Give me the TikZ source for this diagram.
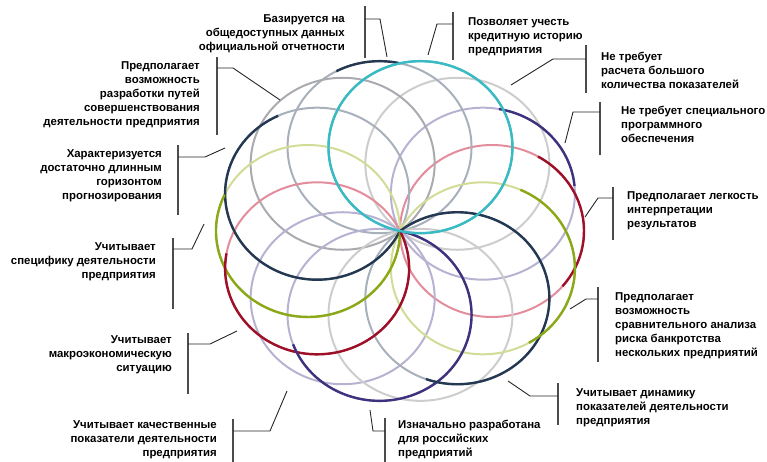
\documentclass[tikz,border=0pt]{standalone}
\usepackage{fontspec}
\setmainfont{Liberation Sans}
\usetikzlibrary{calc}

\definecolor{ringred}{RGB}{158,16,40}
\definecolor{ringpink}{RGB}{226,140,156}
\definecolor{ringindigo}{RGB}{60,50,126}
\definecolor{ringlav}{RGB}{184,178,210}
\definecolor{ringcyan}{RGB}{58,186,194}
\definecolor{ringnavy}{RGB}{36,56,82}
\definecolor{ringslate}{RGB}{168,176,188}
\definecolor{ringgray}{RGB}{170,170,176}
\definecolor{ringlight}{RGB}{205,205,205}
\definecolor{ringolive}{RGB}{138,168,24}
\definecolor{ringpale}{RGB}{210,220,150}

\begin{document}
\begin{tikzpicture}[x=1pt, y=-1pt, font=\fontsize{11.4}{14}\selectfont\bfseries]
		\tikzstyle{ring} = [line width=2pt]
		\tikzstyle{bright} = [line width=2.4pt]
		\tikzstyle{lblleft} = [inner sep=0pt, align=right, anchor=north east]
		\tikzstyle{lblright} = [inner sep=0pt, align=left, anchor=north west]
		\tikzstyle{bracket} = [draw=black!70, line width=1.2pt]
		\tikzstyle{leader} = [draw=black!85, line width=0.9pt]
		
		\useasboundingbox (0,0) rectangle (767,462);
		
		% Rings through the common point
		\coordinate (O) at (400,231);
		\foreach \k/\fade in {0/ringpink, 1/ringlav, 2/ringlight, 3/ringcyan, 4/ringslate, 5/ringgray, 6/ringslate, 7/ringpale, 8/ringpink, 9/ringlav, 10/ringlav, 11/ringlight, 12/ringslate, 13/ringpale}{
			\path (O) ++({-\k*360/14}:92 and 86) coordinate (c\k);
			\draw[ring, draw=\fade] (c\k) ellipse [x radius=92, y radius=86];
		}
		
		% Bright parts of the rings
		\foreach \k/\col/\a/\b in {0/ringred/320/420, 1/ringindigo/5/80, 4/ringnavy/78/118, 6/ringnavy/115/334, 7/ringolive/155/360, 8/ringred/170/385, 10/ringindigo/200/437, 12/ringnavy/250/488, 13/ringolive/300/426}{
			\draw[bright, draw=\col] (c\k) ++({-\a}:92 and 86) arc [start angle={-\a}, end angle={-\b}, x radius=92, y radius=86];
		}
		\draw[bright, draw=ringcyan] (c3) ellipse [x radius=92, y radius=86];
		
		% Labels
		\node[lblleft] (tBase) at (345,14) {Базируется на\\общедоступных данных\\официальной отчетности};
		\node[lblright] (tCredit) at (468,17) {Позволяет учесть\\кредитную историю\\предприятия};
		\node[lblright] (tFew) at (601,52) {Не требует\\расчета большого\\количества показателей};
		\node[lblright] (tSoft) at (621,106) {Не требует специального\\программного\\обеспечения};
		\node[lblright] (tInterp) at (627,191) {Предполагает легкость\\интерпретации\\результатов};
		\node[lblright] (tCompare) at (615,292) {Предполагает\\возможность\\сравнительного анализа\\риска банкротства\\нескольких предприятий};
		\node[lblright] (tDynamic) at (576,388) {Учитывает динамику\\показателей деятельности\\предприятия};
		\node[lblright] (tRussian) at (398,420) {Изначально разработана\\для российских\\предприятий};
		\node[lblleft] (tQuality) at (217,420) {Учитывает качественные\\показатели деятельности\\предприятия};
		\node[lblleft] (tMacro) at (172,335) {Учитывает\\макроэкономическую\\ситуацию};
		\node[lblleft] (tSpecific) at (156,242) {Учитывает\\специфику деятельности\\предприятия};
		\node[lblleft] (tHorizon) at (162,149) {Характеризуется\\достаточно длинным\\горизонтом\\прогнозирования};
		\node[lblleft] (tImprove) at (200,61) {Предполагает\\возможность\\разработки путей\\совершенствования\\деятельности предприятия};
		
		% Brackets and leader lines
		\foreach \n/\xb/\ya/\yb/\yt/\xk/\xp/\yp in {Base/365/6/58/19/380/387/57, Credit/453/12/60/24/437/428/55, Few/586/45/93/59/553/511/85, Soft/600/102/155/112/573/565/143, Interp/613/187/240/198/598/585/217, Compare/598/287/362/299/586/570/309, Dynamic/558/383/425/396/530/508/381, Russian/385/418/462/431/373/370/410, Quality/233/419/462/431/270/287/391, Macro/188/333/394/344/210/237/331, Specific/173/238/309/249/192/204/224, Horizon/178/145/215/157/205/225/148, Improve/217/57/135/68/233/280/100}{
			\coordinate (top\n) at (\xb,\ya);
			\coordinate (bot\n) at (\xb,\yb);
			\coordinate (tick\n) at (\xk,\yt);
			\coordinate (tip\n) at (\xp,\yp);
			\draw[bracket] (top\n) -- (bot\n);
			\draw[leader] (tick\n -| top\n) -- (tick\n) -- (tip\n);
		}
		
\end{tikzpicture}
\end{document}
